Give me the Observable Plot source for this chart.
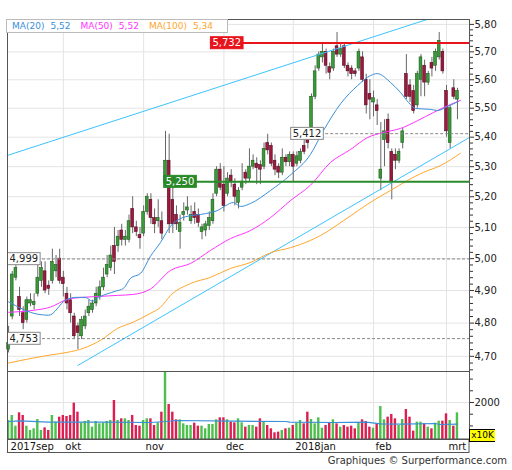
<!DOCTYPE html>
<html><head><meta charset="utf-8">
<script src="https://cdn.jsdelivr.net/npm/d3@7"></script>
<script src="https://cdn.jsdelivr.net/npm/@observablehq/plot@0.6"></script>
<style>
body{margin:0;background:#fff;font-family:"DejaVu Sans",Verdana,sans-serif;}
#wrap{position:relative;width:512px;height:470px;overflow:hidden;background:#fff}
#price,#vol{position:absolute;left:0}
#price{top:0}
#vol{top:371px}
#legend{position:absolute;left:6px;top:19px;height:12px;line-height:12px;border:1px solid #bbb;background:#fff;font-size:9px;padding:0 4px 0 5px;white-space:nowrap}
#legend span{margin-right:6px}
#legend span.v{margin-right:10px}
#x10k{position:absolute;left:469px;top:429px;width:25px;height:11px;line-height:11px;background:#ffff00;border:1px solid #000;border-right:none;font-size:9px;text-align:center;color:#000}
#footer{position:absolute;right:5px;top:455px;font-size:10px;line-height:12px;color:#333}
</style></head>
<body>
<div id="wrap">
<div id="price"></div>
<div id="vol"></div>
<div id="legend"></div>
<div id="x10k">x10K</div>
<div id="footer">Graphiques © Surperformance.com</div>
</div>
<script>
// ---- data (index = trading day from 2017-09-11) ----
const open  = [4.72,4.82,4.94,4.88,4.83,4.81,4.86,4.855,4.89,4.93,4.96,4.915,4.93,4.96,5.00,4.94,4.89,4.87,4.82,4.79,4.76,4.79,4.83,4.84,4.86,4.88,4.91,4.95,4.97,5.04,5.04,5.09,5.06,5.06,5.16,5.10,5.075,5.08,5.15,5.19,5.13,5.12,5.12,5.25,5.32,5.19,5.14,5.085,5.14,5.155,5.12,5.15,5.14,5.085,5.09,5.105,5.12,5.21,5.29,5.24,5.21,5.27,5.24,5.18,5.23,5.28,5.26,5.30,5.31,5.305,5.30,5.38,5.37,5.32,5.30,5.28,5.33,5.315,5.34,5.31,5.32,5.37,5.40,5.41,5.54,5.64,5.68,5.70,5.645,5.64,5.72,5.69,5.72,5.65,5.64,5.63,5.64,5.68,5.60,5.55,5.52,5.51,5.26,5.39,5.46,5.35,5.34,5.32,5.38,5.62,5.58,5.56,5.51,5.60,5.65,5.59,5.66,5.65,5.68,5.70,5.56,5.38,5.57,5.53];
const high  = [4.79,4.96,4.98,4.91,4.85,4.88,4.89,4.89,4.98,4.99,4.99,4.93,5.03,5.01,5.03,4.96,4.91,4.89,4.83,4.80,4.82,4.84,4.87,4.87,4.91,4.93,4.97,5.01,5.04,5.10,5.09,5.11,5.09,5.14,5.20,5.12,5.10,5.17,5.21,5.21,5.16,5.19,5.15,5.42,5.41,5.24,5.17,5.14,5.18,5.20,5.17,5.18,5.16,5.11,5.12,5.15,5.21,5.30,5.31,5.30,5.28,5.29,5.26,5.23,5.31,5.29,5.36,5.34,5.33,5.32,5.38,5.41,5.38,5.34,5.31,5.36,5.34,5.35,5.35,5.35,5.36,5.39,5.41,5.55,5.65,5.70,5.73,5.71,5.66,5.71,5.77,5.73,5.73,5.66,5.65,5.64,5.71,5.70,5.62,5.60,5.56,5.53,5.45,5.46,5.48,5.36,5.36,5.36,5.43,5.69,5.60,5.58,5.63,5.69,5.67,5.63,5.68,5.71,5.77,5.71,5.58,5.51,5.60,5.57];
const low   = [4.71,4.81,4.93,4.82,4.78,4.80,4.85,4.84,4.88,4.91,4.89,4.885,4.92,4.94,4.92,4.88,4.84,4.80,4.75,4.72,4.75,4.78,4.82,4.83,4.85,4.87,4.90,4.94,4.96,4.95,5.02,5.04,5.04,5.05,5.08,5.07,5.03,5.07,5.14,5.11,5.08,5.10,5.06,5.24,5.08,5.08,5.09,5.03,5.12,5.14,5.11,5.11,5.10,5.06,5.07,5.09,5.11,5.20,5.22,5.15,5.20,5.23,5.17,5.16,5.22,5.24,5.25,5.29,5.24,5.24,5.29,5.34,5.30,5.27,5.26,5.27,5.30,5.30,5.25,5.30,5.31,5.34,5.36,5.39,5.53,5.63,5.66,5.62,5.60,5.63,5.68,5.68,5.64,5.61,5.60,5.61,5.63,5.59,5.48,5.46,5.47,5.44,5.22,5.30,5.36,5.19,5.29,5.31,5.36,5.53,5.52,5.48,5.50,5.54,5.54,5.58,5.61,5.63,5.67,5.62,5.40,5.36,5.53,5.46];
const close = [4.74,4.95,4.97,4.84,4.80,4.87,4.87,4.865,4.94,4.97,4.90,4.905,4.99,4.98,4.93,4.92,4.86,4.83,4.76,4.77,4.81,4.82,4.85,4.86,4.89,4.91,4.94,4.98,5.01,4.99,5.07,5.06,5.07,5.12,5.10,5.085,5.065,5.15,5.20,5.13,5.11,5.13,5.08,5.32,5.11,5.11,5.11,5.115,5.15,5.165,5.14,5.13,5.115,5.10,5.11,5.13,5.19,5.29,5.23,5.17,5.26,5.25,5.20,5.22,5.25,5.26,5.30,5.32,5.295,5.29,5.36,5.355,5.31,5.29,5.28,5.33,5.315,5.34,5.30,5.335,5.35,5.35,5.38,5.54,5.63,5.69,5.70,5.65,5.625,5.70,5.69,5.71,5.65,5.63,5.62,5.62,5.70,5.60,5.51,5.53,5.535,5.49,5.29,5.42,5.38,5.25,5.32,5.35,5.42,5.54,5.54,5.49,5.62,5.68,5.59,5.62,5.64,5.70,5.74,5.63,5.42,5.50,5.54,5.56];
const volume = [1232,1445,990,1559,1445,990,805,876,1274,805,919,805,1445,1161,1374,1445,1402,1445,1972,1587,1118,1189,1232,947,1189,1089,1118,1189,1232,2085,1232,1303,1303,1232,1445,1018,990,1232,1303,1303,1018,1132,1587,3320,1915,1587,1260,1260,1089,1018,1018,1118,990,990,876,1061,1061,1260,1345,1345,1260,1161,1132,1303,1132,947,1018,1018,947,1303,1161,1018,876,705,734,805,876,904,1018,1118,1232,1089,1587,1274,1089,1345,904,1018,1132,1260,1089,947,1018,947,990,876,1118,1260,1189,947,904,1089,1829,1260,1374,1488,1303,1018,1274,1701,1374,776,1161,1161,1089,947,876,1118,1203,1203,1516,1232,990,1559];
// moving averages: [day index, value]
const ma20 = [[0,4.865],[8,4.827],[11,4.824],[15.6,4.870],[18.4,4.879],[21,4.879],[23,4.867],[24.7,4.879],[29.3,4.898],[31.5,4.907],[33.4,4.938],[36.2,4.954],[38.9,5.008],[41.6,5.051],[44.4,5.104],[47,5.128],[49.9,5.138],[52.6,5.142],[55.3,5.148],[57.3,5.155],[59.5,5.171],[61.6,5.181],[63.6,5.168],[66.3,5.178],[71.8,5.221],[77.3,5.273],[82.7,5.341],[86.3,5.423],[91,5.516],[95.6,5.579],[99.2,5.615],[101,5.622],[104.7,5.590],[107.4,5.555],[109.6,5.520],[111.5,5.499],[115.6,5.496],[117.5,5.492],[120.3,5.506],[123.3,5.524]];
const ma50 = [[0,4.833],[6.8,4.839],[11.5,4.849],[16.2,4.873],[20.5,4.879],[25.2,4.882],[29.9,4.885],[34.2,4.888],[38.9,4.905],[44.4,4.963],[49.9,4.985],[55.3,5.026],[60.8,5.064],[66.3,5.090],[71.8,5.132],[77.3,5.188],[82.7,5.238],[88.2,5.314],[93.7,5.358],[98.4,5.399],[102.7,5.416],[107.4,5.430],[112.1,5.457],[116.4,5.485],[121.1,5.513],[123.8,5.527]];
const ma100 = [[0,4.680],[6.8,4.695],[11.5,4.704],[16.2,4.712],[20.5,4.724],[25.2,4.748],[29.9,4.784],[34.2,4.803],[38.9,4.830],[41.6,4.848],[44.4,4.885],[49.9,4.922],[55.3,4.941],[60.8,4.969],[66.3,4.988],[71.8,5.019],[77.3,5.035],[82.7,5.058],[85.5,5.074],[91.8,5.122],[100,5.188],[104.7,5.221],[109.3,5.254],[113.7,5.281],[118.4,5.304],[123.8,5.345]];
const volMA = [[0,1189],[3,1217],[11,1161],[25,1161],[39,1146],[43,1189],[46,1232],[62,1203],[76,1189],[77,1161],[89,1146],[98,1161],[102,1089],[108,1075],[117,1104],[118,1061],[123,1075]];
const upperTrend = [[-0.3,5.338],[126.3,5.869]];
const lowerTrend = [[19,4.673],[126.3,5.399]];
const levelValues = [5.732,5.250,5.412,4.999,4.753];
const levelKinds  = ["resistance","support","mark","mark","mark"];
const levelFrom   = [55.3,42.5,77.3,-0.3,-0.3];
const priceTicks = [4.7,4.8,4.9,5.0,5.1,5.2,5.3,5.4,5.5,5.6,5.7,5.8];
const volTicks = [2000];
const months = [0,15,37,59,78,100,120];
const monthLabels = ["2017sep","okt","nov","dec","2018jan","feb","mrt"];
const legendNames = ["MA(20)","MA(50)","MA(100)"];
const legendValues = [5.52,5.52,5.34];

// ---- build ----
const C = {ma20:"#3a8fd9", ma50:"#ff33ff", ma100:"#ffa62b", trend:"#3cc3ff",
  upBody:"#3a9a3a", upEdge:"#1d5c1d", dnBody:"#9c1a3e", dnEdge:"#560b21",
  upVol:"#4cbf4c", dnVol:"#dc1e52", grid:"#e4e4e4", red:"#e8141c", green:"#2a8a2a"};
const xDomain = [-0.3,126.3];
const fmt2 = d => d.toFixed(2).replace(".", ",");
const fmt3 = d => d.toFixed(3).replace(".", ",");
const candles = open.map((o,i)=>({i, open:o, high:high[i], low:low[i], close:close[i], vol:volume[i]}));
const up = candles.filter(d=>d.close>=d.open);
const dn = candles.filter(d=>d.close<d.open);
const levels = levelValues.map((v,k)=>({value:v, kind:levelKinds[k], from:levelFrom[k]}));
const lvRes = levels.filter(d=>d.kind==="resistance");
const lvSup = levels.filter(d=>d.kind==="support");
const lvMark = levels.filter(d=>d.kind==="mark");
const minorPrice = d3.range(4.66,5.81,0.02).map(v=>+v.toFixed(2)).filter(v=>!priceTicks.some(t=>Math.abs(t-v)<1e-6));
const minorVol = [1000,1500,2500,3000];
const font = '"DejaVu Sans", Verdana, sans-serif';

const pricePlot = Plot.plot({
  width:512, height:371, marginTop:19, marginBottom:0, marginLeft:7, marginRight:43,
  x:{domain:xDomain, axis:null},
  y:{type:"log", domain:[4.655,5.818], axis:null},
  style:{fontFamily:font, fontSize:"10px", color:"#222", background:"transparent", overflow:"visible"},
  marks:[
    Plot.gridY(priceTicks,{stroke:C.grid, strokeOpacity:1}),
    Plot.gridX(months.slice(1),{stroke:C.grid, strokeOpacity:1}),
    Plot.ruleX(candles,{x:"i", y1:"low", y2:"high", stroke:"#666", strokeWidth:1}),
    Plot.rect(up,{x1:d=>d.i-0.38, x2:d=>d.i+0.38, y1:"open", y2:"close", fill:C.upBody, stroke:C.upEdge, strokeWidth:0.6}),
    Plot.rect(dn,{x1:d=>d.i-0.38, x2:d=>d.i+0.38, y1:"open", y2:"close", fill:C.dnBody, stroke:C.dnEdge, strokeWidth:0.6}),
    Plot.line(upperTrend,{x:d=>d[0], y:d=>d[1], stroke:C.trend, strokeWidth:1, clip:true}),
    Plot.line(lowerTrend,{x:d=>d[0], y:d=>d[1], stroke:C.trend, strokeWidth:1, clip:true}),
    Plot.line(ma100,{x:d=>d[0], y:d=>d[1], stroke:C.ma100, strokeWidth:1, curve:"monotone-x", clip:true}),
    Plot.line(ma50,{x:d=>d[0], y:d=>d[1], stroke:C.ma50, strokeWidth:1, curve:"monotone-x", clip:true}),
    Plot.line(ma20,{x:d=>d[0], y:d=>d[1], stroke:C.ma20, strokeWidth:1, curve:"monotone-x", clip:true}),
    Plot.ruleY(lvMark,{y:"value", x1:"from", x2:d=>xDomain[1], stroke:"#888", strokeWidth:1, strokeDasharray:"3,2"}),
    Plot.ruleY(lvRes,{y:"value", x1:"from", x2:d=>xDomain[1], stroke:C.red, strokeWidth:2}),
    Plot.ruleY(lvSup,{y:"value", x1:"from", x2:d=>xDomain[1], stroke:C.green, strokeWidth:2}),
    Plot.text(levels,{x:"from", y:"value", text:d=>fmt3(d.value), textAnchor:"start", dx:2, fontSize:10,
      fill:d=>d.kind==="mark"?"#222":"#fff"}),
    Plot.axisY(minorPrice,{anchor:"right", tickSize:3, tickFormat:()=>"", stroke:"#333", label:null}),
    Plot.axisY(priceTicks,{anchor:"right", tickSize:4, tickPadding:1, tickFormat:fmt2, stroke:"#333", fill:"#222", label:null}),
    Plot.frame({stroke:"#555"})
  ]
});

const volPlot = Plot.plot({
  width:512, height:82, marginTop:0, marginBottom:14, marginLeft:7, marginRight:43,
  x:{domain:xDomain, axis:null},
  y:{domain:[420,3324], axis:null},
  style:{fontFamily:font, fontSize:"10px", color:"#222", background:"transparent", overflow:"visible"},
  marks:[
    Plot.gridY(volTicks,{stroke:C.grid, strokeOpacity:1}),
    Plot.gridX(months.slice(1),{stroke:C.grid, strokeOpacity:1}),
    Plot.rectY(up,{x1:d=>d.i-0.33, x2:d=>d.i+0.33, y:"vol", fill:C.upVol, clip:true}),
    Plot.rectY(dn,{x1:d=>d.i-0.33, x2:d=>d.i+0.33, y:"vol", fill:C.dnVol, clip:true}),
    Plot.line(volMA,{x:d=>d[0], y:d=>d[1], stroke:C.ma20, strokeWidth:1.2}),
    Plot.axisY(minorVol,{anchor:"right", tickSize:3, tickFormat:()=>"", stroke:"#333", label:null}),
    Plot.axisY(volTicks,{anchor:"right", tickSize:4, tickPadding:1, tickFormat:d=>String(d), stroke:"#333", fill:"#222", label:null}),
    Plot.axisX(months,{anchor:"bottom", tickSize:0, tickPadding:3, textAnchor:"start", dx:2, fill:"#111",
      tickFormat:d=>monthLabels[months.indexOf(d)], label:null}),
    Plot.frame({stroke:"#555"})
  ]
});

document.getElementById("price").appendChild(pricePlot);
document.getElementById("vol").appendChild(volPlot);

// label boxes behind the level texts
const labelStyle = {};
levels.forEach(d=>{
  labelStyle[fmt3(d.value)] = d.kind==="resistance" ? {fill:C.red, stroke:C.red}
    : d.kind==="support" ? {fill:C.green, stroke:C.green} : {fill:"#fff", stroke:"#888"};
});
pricePlot.querySelectorAll("text").forEach(t=>{
  const s = labelStyle[t.textContent];
  if (!s) return;
  const b = t.getBBox();
  const r = document.createElementNS("http://www.w3.org/2000/svg","rect");
  r.setAttribute("x", b.x-2); r.setAttribute("y", b.y-0.5);
  r.setAttribute("width", b.width+4); r.setAttribute("height", b.height+1);
  r.setAttribute("fill", s.fill); r.setAttribute("stroke", s.stroke);
  const tr = t.getAttribute("transform"); if (tr) r.setAttribute("transform", tr);
  t.parentNode.insertBefore(r, t);
});
// date row box
d3.select(volPlot).append("rect").attr("x",7.5).attr("y",68).attr("width",461.5).attr("height",13.5)
  .attr("fill","none").attr("stroke","#555");

// legend
const legendColors = [C.ma20, C.ma50, C.ma100];
document.getElementById("legend").innerHTML = legendNames.map((n,k)=>
  `<span style="color:${legendColors[k]}">${n}</span><span class="v" style="color:${legendColors[k]}">${fmt2(legendValues[k])}</span>`).join("");
</script>
</body></html>
